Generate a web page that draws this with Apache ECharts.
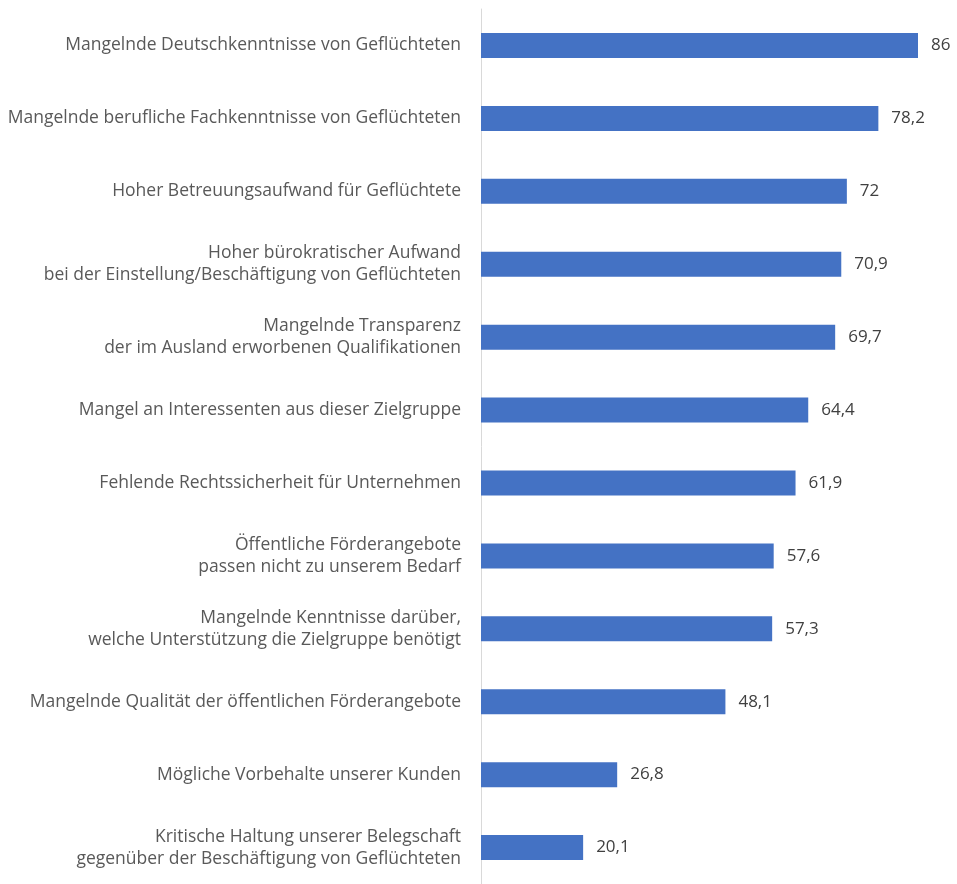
<!DOCTYPE html>
<html><head><meta charset="utf-8">
<script src="https://cdn.jsdelivr.net/npm/echarts@6/dist/echarts.min.js"></script>
<style>html,body{margin:0;padding:0;background:#fff}#c{width:957px;height:884px}</style>
</head><body><div id="c"></div>
<script>
const categories = [
  "Mangelnde Deutschkenntnisse von Geflüchteten",
  "Mangelnde berufliche Fachkenntnisse von Geflüchteten",
  "Hoher Betreuungsaufwand für Geflüchtete",
  "Hoher bürokratischer Aufwand\nbei der Einstellung/Beschäftigung von Geflüchteten",
  "Mangelnde Transparenz\nder im Ausland erworbenen Qualifikationen",
  "Mangel an Interessenten aus dieser Zielgruppe",
  "Fehlende Rechtssicherheit für Unternehmen",
  "Öffentliche Förderangebote\npassen nicht zu unserem Bedarf",
  "Mangelnde Kenntnisse darüber,\nwelche Unterstützung die Zielgruppe benötigt",
  "Mangelnde Qualität der öffentlichen Förderangebote",
  "Mögliche Vorbehalte unserer Kunden",
  "Kritische Haltung unserer Belegschaft\ngegenüber der Beschäftigung von Geflüchteten"
];
const values = [86, 78.2, 72, 70.9, 69.7, 64.4, 61.9, 57.6, 57.3, 48.1, 26.8, 20.1];

const chart = echarts.init(document.getElementById('c'), null, {renderer:'canvas'});
const font = '"Open Sans", "Noto Sans", sans-serif';
chart.setOption({
  animation:false,
  grid:{left:481, right:39, top:9, bottom:-2, containLabel:false},
  xAxis:{type:'value', min:0, max:86, show:false},
  yAxis:{type:'category', data:categories, inverse:true,
    axisLine:{show:true, lineStyle:{color:'#d9d9d9', width:1}},
    axisTick:{show:false},
    axisLabel:{margin:20, color:'#595959', fontSize:17.5, fontFamily:font, lineHeight:22, align:'right'}
  },
  series:[{type:'bar', data:values, barWidth:25,
    itemStyle:{color:'#4472c4'},
    label:{show:true, position:'right', distance:13, color:'#404040', fontSize:17, fontFamily:font,
      formatter:p=>String(p.value).replace('.', ',')}
  }]
});
</script></body></html>
